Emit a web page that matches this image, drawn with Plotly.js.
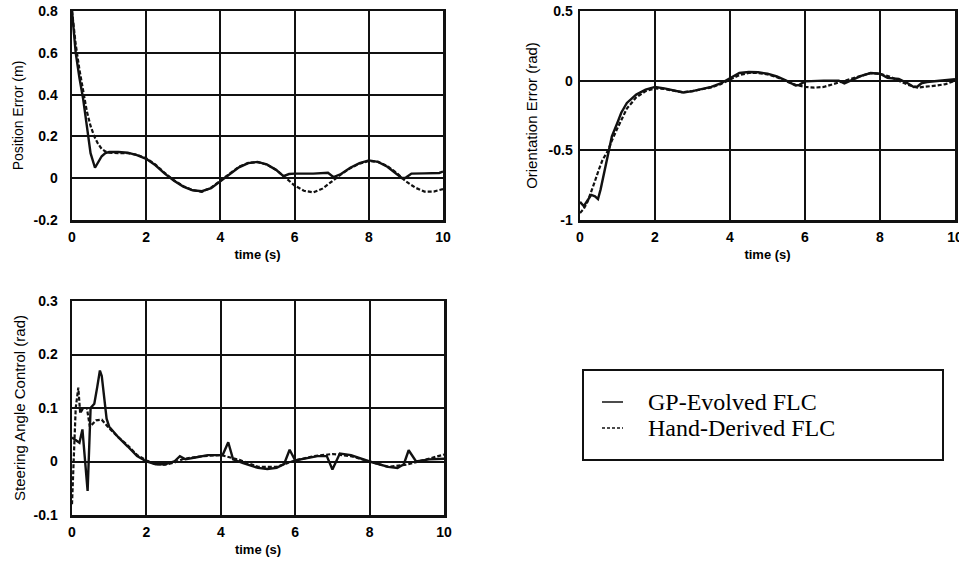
<!DOCTYPE html>
<html>
<head>
<meta charset="utf-8">
<script src="https://cdn.plot.ly/plotly-3.0.1.min.js"></script>
<style>html,body{margin:0;padding:0;background:#fff;}#chart{width:959px;height:561px;}</style>
</head>
<body>
<div id="chart"></div>
<script>
// ---------- Data ----------
const seriesNames = ['GP-Evolved FLC', 'Hand-Derived FLC'];

// Position error (m)
const posT_gp = [0,0.1,0.2,0.3,0.4,0.5,0.62,0.7,0.8,0.9,1.0,1.25,1.5,1.75,2.0,2.25,2.5,2.75,3.0,3.25,3.5,3.75,4.0,4.25,4.5,4.75,5.0,5.25,5.5,5.7,5.85,6.0,6.5,6.9,7.05,7.25,7.5,7.75,8.0,8.25,8.5,8.75,8.9,9.0,9.15,9.5,9.9,10.0];
const pos_gp  = [0.8,0.6,0.48,0.38,0.25,0.12,0.05,0.075,0.105,0.12,0.125,0.125,0.122,0.11,0.093,0.062,0.022,-0.012,-0.04,-0.058,-0.062,-0.048,-0.015,0.022,0.052,0.072,0.078,0.066,0.04,0.01,0.02,0.022,0.022,0.026,0.005,0.02,0.05,0.072,0.085,0.078,0.055,0.02,0.0,0.003,0.022,0.023,0.025,0.032];
const posT_hd = [0,0.1,0.2,0.3,0.4,0.5,0.6,0.7,0.8,0.9,1.0,1.25,1.5,1.75,2.0,2.25,2.5,2.75,3.0,3.25,3.5,3.75,4.0,4.25,4.5,4.75,5.0,5.25,5.5,5.75,6.0,6.25,6.5,6.75,7.0,7.25,7.5,7.75,8.0,8.25,8.5,8.75,9.0,9.25,9.5,9.75,10.0];
const pos_hd  = [0.8,0.64,0.52,0.41,0.32,0.25,0.2,0.165,0.14,0.128,0.122,0.12,0.12,0.112,0.095,0.065,0.025,-0.01,-0.038,-0.057,-0.065,-0.045,-0.012,0.025,0.055,0.073,0.077,0.065,0.04,0.003,-0.035,-0.06,-0.068,-0.05,-0.015,0.018,0.048,0.07,0.082,0.078,0.058,0.025,-0.015,-0.045,-0.064,-0.064,-0.052];

// Orientation error (rad)
const oriT_gp = [0,0.1,0.2,0.3,0.4,0.48,0.55,0.65,0.75,0.85,1.0,1.1,1.25,1.5,1.75,2.0,2.25,2.5,2.75,3.0,3.25,3.5,3.75,4.0,4.25,4.5,4.75,5.0,5.25,5.5,5.75,5.85,6.0,6.5,6.9,7.05,7.2,7.5,7.75,8.0,8.2,8.5,8.75,8.9,9.0,9.1,9.25,9.5,9.75,10.0];
const ori_gp  = [-0.87,-0.9,-0.86,-0.82,-0.83,-0.85,-0.78,-0.65,-0.52,-0.4,-0.3,-0.23,-0.16,-0.1,-0.065,-0.045,-0.055,-0.07,-0.085,-0.075,-0.062,-0.045,-0.02,0.015,0.055,0.062,0.06,0.05,0.03,0.0,-0.035,-0.03,-0.005,0.0,0.0,-0.02,0.0,0.035,0.055,0.05,0.02,0.012,-0.02,-0.045,-0.042,-0.02,-0.01,-0.005,0.0,0.01];
const oriT_hd = [0,0.1,0.2,0.3,0.4,0.5,0.6,0.75,0.85,1.0,1.1,1.25,1.5,1.75,2.0,2.25,2.5,2.75,3.0,3.25,3.5,3.75,4.0,4.25,4.5,4.75,5.0,5.25,5.5,5.75,6.0,6.25,6.5,6.75,7.0,7.25,7.5,7.75,8.0,8.25,8.5,8.75,9.0,9.25,9.5,9.75,10.0];
const ori_hd  = [-0.95,-0.92,-0.87,-0.8,-0.72,-0.64,-0.57,-0.5,-0.43,-0.34,-0.28,-0.2,-0.12,-0.075,-0.055,-0.06,-0.072,-0.083,-0.075,-0.063,-0.048,-0.025,0.005,0.04,0.055,0.055,0.045,0.025,-0.005,-0.03,-0.045,-0.05,-0.045,-0.025,-0.005,0.015,0.04,0.055,0.05,0.03,0.0,-0.03,-0.05,-0.045,-0.035,-0.025,0.0];

// Steering angle control (rad)
const strT_gp = [0,0.1,0.2,0.28,0.35,0.42,0.5,0.6,0.68,0.75,0.8,0.85,0.93,1.0,1.25,1.5,1.75,2.0,2.25,2.5,2.75,2.9,3.05,3.35,3.65,3.9,4.05,4.2,4.33,4.6,5.0,5.25,5.5,5.7,5.85,6.0,6.25,6.6,6.85,7.0,7.2,7.5,8.0,8.5,8.75,8.92,9.05,9.25,9.6,10.0];
const str_gp  = [0.045,0.04,0.035,0.06,0.0,-0.055,0.1,0.108,0.14,0.17,0.16,0.125,0.08,0.065,0.045,0.028,0.01,0.0,-0.005,-0.005,0.0,0.01,0.004,0.008,0.012,0.012,0.012,0.036,0.004,-0.003,-0.012,-0.014,-0.012,-0.005,0.022,0.002,0.005,0.01,0.01,-0.015,0.015,0.012,0.0,-0.01,-0.012,-0.005,0.021,0.0,0.004,0.005];
const strT_hd = [0,0.05,0.1,0.17,0.22,0.3,0.4,0.48,0.55,0.65,0.8,0.93,1.0,1.25,1.5,1.75,2.0,2.25,2.5,2.75,3.0,3.5,4.0,4.5,5.0,5.5,6.0,6.5,7.0,7.5,8.0,8.5,9.0,9.5,10.0];
const str_hd  = [-0.08,0.02,0.1,0.138,0.09,0.1,0.1,0.065,0.07,0.077,0.078,0.068,0.062,0.045,0.03,0.012,0.002,-0.005,-0.006,-0.002,0.005,0.01,0.012,0.003,-0.01,-0.01,0.002,0.01,0.014,0.01,0.0,-0.01,-0.006,0.004,0.013];

// Tick labels
const xTickVals = [0,2,4,6,8,10];
const xTickText = ['0','2','4','6','8','10'];
const posTickVals = [-0.2,0,0.2,0.4,0.6,0.8];
const posTickText = ['-0.2','0','0.2','0.4','0.6','0.8'];
const oriTickVals = [-1,-0.5,0,0.5];
const oriTickText = ['-1','-0.5','0','0.5'];
const strTickVals = [-0.1,0,0.1,0.2,0.3];
const strTickText = ['-0.1','0','0.1','0.2','0.3'];

// ---------- Figure ----------
const W = 959, H = 561;
const px = v => v / W;
const py = v => 1 - v / H;

const sans = 'Liberation Sans, Arial, Helvetica, sans-serif';
const solidLine = {color:'#111', width:2.4};
const dashLine = {color:'#111', width:2.2, dash:'4px,2px'};

const traces = [
  {x:posT_gp, y:pos_gp, xaxis:'x', yaxis:'y', mode:'lines', line:solidLine, name:seriesNames[0]},
  {x:posT_hd, y:pos_hd, xaxis:'x', yaxis:'y', mode:'lines', line:dashLine, name:seriesNames[1]},
  {x:oriT_gp, y:ori_gp, xaxis:'x2', yaxis:'y2', mode:'lines', line:solidLine, name:seriesNames[0]},
  {x:oriT_hd, y:ori_hd, xaxis:'x2', yaxis:'y2', mode:'lines', line:dashLine, name:seriesNames[1]},
  {x:strT_gp, y:str_gp, xaxis:'x3', yaxis:'y3', mode:'lines', line:solidLine, name:seriesNames[0]},
  {x:strT_hd, y:str_hd, xaxis:'x3', yaxis:'y3', mode:'lines', line:dashLine, name:seriesNames[1]}
];

function xAxis(domain, anchor) {
  return {
    domain: domain, anchor: anchor, range:[0,10],
    tickvals: xTickVals, ticktext: xTickText,
    showgrid:true, gridcolor:'#111', gridwidth:2,
    showline:true, linecolor:'#111', linewidth:2.5, mirror:true,
    zeroline:false, ticks:'outside', ticklen:3, tickcolor:'rgba(0,0,0,0)',
    ticklabeloverflow:'allow',
    tickfont:{family:sans, size:14, weight:'bold', color:'#000'},
    title:{text:'time (s)', font:{family:sans, size:13, weight:'bold', color:'#000'}, standoff:6},
    fixedrange:true, automargin:false
  };
}
function yAxis(domain, anchor, range, tv, tt, title, tsize, ticklen, standoff) {
  return {
    domain: domain, anchor: anchor, range: range,
    tickvals: tv, ticktext: tt,
    showgrid:true, gridcolor:'#111', gridwidth:2,
    showline:true, linecolor:'#111', linewidth:2.5, mirror:true,
    zeroline:false, ticks:'outside', ticklen:ticklen, tickcolor:'rgba(0,0,0,0)',
    ticklabeloverflow:'allow',
    tickfont:{family:sans, size:14, weight:'bold', color:'#000'},
    title:{text:title, font:{family:sans, size:tsize, color:'#000'}, standoff:standoff},
    fixedrange:true, automargin:false
  };
}

const topY = [py(220), py(11)];
const botY = [py(515), py(301)];

const layout = {
  width: W, height: H,
  margin:{l:0, r:0, t:0, b:0},
  paper_bgcolor:'#fff', plot_bgcolor:'#fff',
  showlegend:false,
  font:{family:sans, color:'#000'},
  xaxis: xAxis([px(72), px(443)], 'y'),
  yaxis: yAxis(topY, 'x', [-0.2,0.8], posTickVals, posTickText, 'Position Error (m)', 14, 9, 7),
  xaxis2: xAxis([px(580), px(955)], 'y2'),
  yaxis2: yAxis(topY, 'x2', [-1,0.5], oriTickVals, oriTickText, 'Orientation Error (rad)', 15, 2, 8),
  xaxis3: xAxis([px(72), px(444)], 'y3'),
  yaxis3: yAxis(botY, 'x3', [-0.1,0.3], strTickVals, strTickText, 'Steering Angle Control (rad)', 15, 9, 5),
  shapes: [
    {type:'rect', xref:'paper', yref:'paper', x0:px(583), x1:px(943), y0:py(460), y1:py(370), line:{color:'#111', width:2}, fillcolor:'rgba(0,0,0,0)'},
    {type:'line', xref:'paper', yref:'paper', x0:px(602), x1:px(623), y0:py(402), y1:py(402), line:{color:'#111', width:1.5}},
    {type:'line', xref:'paper', yref:'paper', x0:px(602), x1:px(623), y0:py(428), y1:py(428), line:{color:'#111', width:1.5, dash:'3px,2px'}}
  ],
  annotations: [
    {xref:'paper', yref:'paper', x:px(646), y:py(402), xanchor:'left', yanchor:'middle', showarrow:false, text:seriesNames[0], font:{family:'Liberation Serif, Times New Roman, serif', size:24, color:'#000'}},
    {xref:'paper', yref:'paper', x:px(646), y:py(428), xanchor:'left', yanchor:'middle', showarrow:false, text:seriesNames[1], font:{family:'Liberation Serif, Times New Roman, serif', size:24, color:'#000'}}
  ]
};

Plotly.newPlot('chart', traces, layout, {staticPlot:true, displayModeBar:false});
</script>
</body>
</html>
